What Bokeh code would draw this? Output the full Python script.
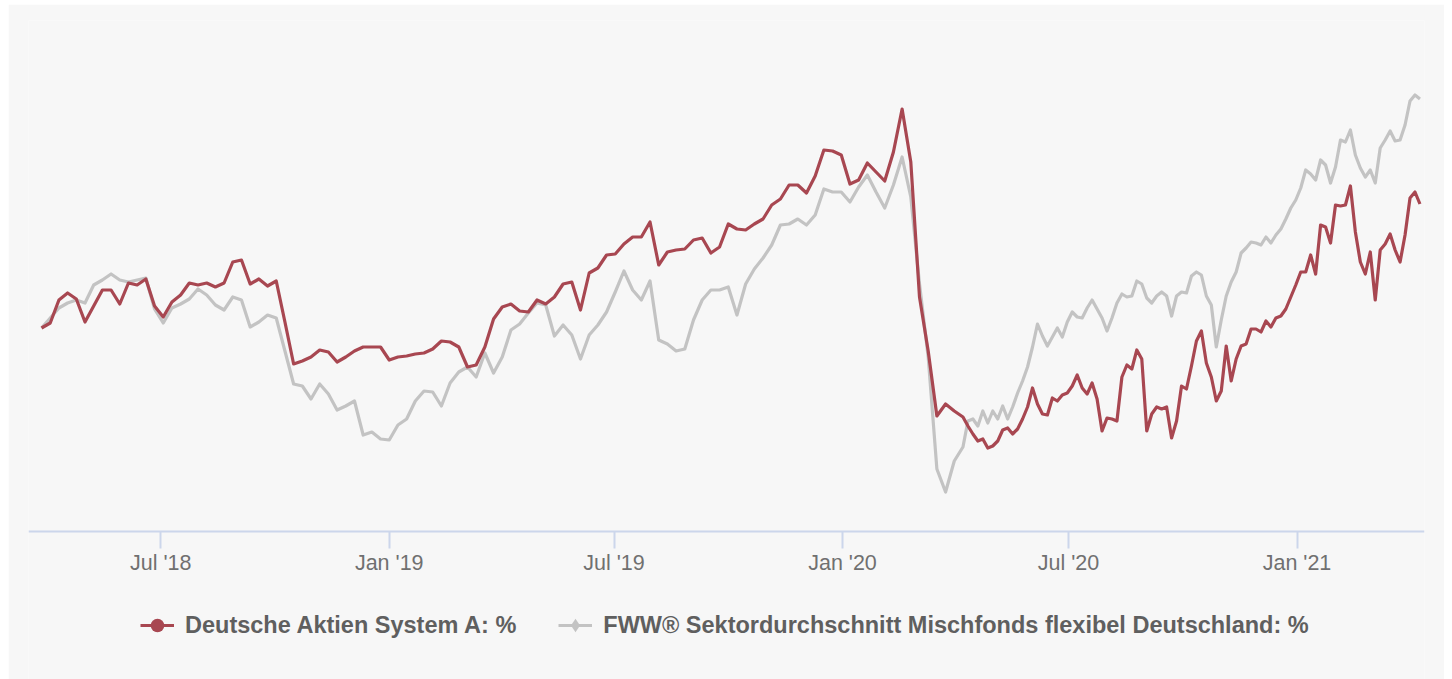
from datetime import datetime
import pandas as pd
from bokeh.plotting import figure
from bokeh.models import (ColumnDataSource, Range1d, FixedTicker, Legend, LegendItem,
                          DatetimeTickFormatter)
from bokeh.embed import file_html
from bokeh.resources import INLINE

# ---------------- data (percent performance) ----------------
series_names = ["Deutsche Aktien System A: %",
                "FWW® Sektordurchschnitt Mischfonds flexibel Deutschland: %"]

weekly_start = "2018-03-27"   # weekly observations
daily_start = "2020-04-11"    # denser observations (every 4 days)

fund_weekly = [
    0.0, 0.5, 2.8, 3.5, 2.9, 0.6, 2.2, 3.8, 3.8, 2.4,
    4.5, 4.3, 4.9, 2.2, 1.1, 2.6, 3.3, 4.5, 4.3, 4.5,
    4.1, 4.5, 6.6, 6.8, 4.4, 4.9, 4.2, 4.7, 0.6, -3.6,
    -3.3, -2.9, -2.2, -2.4, -3.4, -2.9, -2.3, -1.9, -1.9, -1.9,
    -3.2, -2.9, -2.8, -2.6, -2.5, -2.1, -1.3, -1.4, -1.9, -3.9,
    -3.7, -1.9, 0.9, 2.1, 2.4, 1.7, 1.6, 2.8, 2.4, 3.1,
    4.4, 4.6, 1.8, 5.5, 6.0, 7.3, 7.4, 8.4, 9.1, 9.1,
    10.6, 6.3, 7.6, 7.8, 7.9, 8.8, 9.0, 7.5, 8.1, 10.4,
    9.9, 9.8, 10.4, 10.9, 12.3, 12.9, 14.3, 14.3, 13.5, 15.2,
    17.8, 17.7, 17.3, 14.4, 14.8, 16.5, 15.6, 14.7, 17.6, 21.9,
    16.6, 3.1, -2.3, -8.8, -7.6, -8.3, -8.9,
]
sector_weekly = [
    0.0, 1.0, 2.0, 2.5, 2.8, 2.5, 4.3, 4.8, 5.4, 4.8,
    4.6, 4.8, 5.0, 1.9, 0.5, 2.0, 2.4, 2.9, 3.9, 3.3,
    2.3, 1.8, 3.1, 2.8, 0.1, 0.6, 1.3, 1.0, -2.3, -5.6,
    -5.8, -7.1, -5.6, -6.6, -8.2, -7.8, -7.3, -10.7, -10.4, -11.1,
    -11.2, -9.7, -9.1, -7.3, -6.3, -6.4, -7.8, -5.5, -4.4, -3.9,
    -4.9, -2.5, -4.5, -2.9, -0.2, 0.4, 1.5, 2.5, 2.3, -0.8,
    0.3, -0.7, -3.1, -0.7, 0.3, 1.6, 3.6, 5.7, 3.8, 2.8,
    4.7, -1.2, -1.6, -2.3, -2.1, 0.8, 2.8, 3.8, 3.8, 4.1,
    1.3, 4.4, 5.9, 7.0, 8.3, 10.3, 10.4, 10.9, 10.3, 11.3,
    13.9, 13.6, 13.6, 12.6, 14.1, 15.3, 13.6, 12.0, 14.3, 17.1,
    13.1, 4.4, -2.9, -14.1, -16.4, -13.3, -11.9,
]
fund_daily = [
    -9.8, -10.6, -11.3, -11.1, -12.0, -11.8, -11.3, -10.2, -10.0, -10.6,
    -10.1, -9.1, -7.9, -6.0, -7.6, -8.6, -8.7, -7.0, -7.3, -6.7,
    -6.5, -5.8, -4.7, -6.0, -6.6, -5.5, -7.1, -10.3, -9.0, -9.1,
    -9.3, -4.9, -3.7, -4.1, -2.2, -3.1, -10.3, -8.6, -7.9, -8.1,
    -7.9, -11.0, -9.3, -5.8, -6.1, -3.8, -1.3, -0.3, -3.5, -4.9,
    -7.3, -6.3, -1.8, -5.3, -3.1, -1.8, -1.6, -0.1, -0.1, -0.4,
    0.7, 0.1, 1.0, 1.2, 1.9, 3.1, 4.3, 5.6, 5.6, 7.3,
    5.4, 10.3, 10.1, 8.5, 12.3, 12.2, 12.3, 14.2, 9.6, 6.6,
    5.4, 7.6, 2.8, 7.8, 8.4, 9.4, 7.8, 6.6, 9.3, 13.0,
    13.6, 12.4,
]
sector_daily = [
    -9.3, -9.1, -9.8, -8.3, -9.5, -8.3, -9.1, -7.8, -9.1, -7.9,
    -6.5, -5.3, -3.9, -1.9, 0.4, -0.8, -1.8, -0.9, 0.0, -0.9,
    0.6, 1.6, 1.1, 1.0, 2.0, 2.8, 1.9, 1.0, -0.3, 1.0,
    2.5, 3.4, 3.1, 3.2, 4.7, 4.4, 3.0, 2.5, 3.2, 3.6,
    3.2, 1.2, 3.2, 3.6, 3.5, 5.2, 5.6, 5.3, 3.2, 2.3,
    -1.9, 0.8, 3.2, 4.6, 5.6, 7.5, 8.0, 8.6, 8.5, 8.3,
    9.1, 8.5, 9.3, 9.9, 10.9, 12.0, 12.8, 14.0, 15.8, 15.4,
    14.8, 16.8, 16.3, 14.5, 16.1, 18.8, 18.6, 19.8, 17.3, 16.0,
    15.1, 15.8, 14.5, 18.0, 18.8, 19.7, 18.7, 18.8, 20.3, 22.7,
    23.3, 22.9,
]

tick_dates = ["2018-07-01", "2019-01-01", "2019-07-01",
              "2020-01-01", "2020-07-01", "2021-01-01"]
tick_labels = ["Jul '18", "Jan '19", "Jul '19", "Jan '20", "Jul '20", "Jan '21"]
axis_level = -20.35   # value at which the x axis line sits

# ---------------- build ----------------
nw = min(len(fund_weekly), len(sector_weekly))
nd = min(len(fund_daily), len(sector_daily))
dates = (list(pd.date_range(weekly_start, periods=nw, freq="7D")) +
         list(pd.date_range(daily_start, periods=nd, freq="4D")))
src = ColumnDataSource(dict(
    x=dates,
    fund=fund_weekly[:nw] + fund_daily[:nd],
    sector=sector_weekly[:nw] + sector_daily[:nd],
))

RED = "#a84751"
GREY = "#c3c3c3"
BG = "#f7f7f7"

p = figure(width=1436, height=675, x_axis_type="datetime", y_axis_location=None,
           output_backend="svg", toolbar_location=None,
           x_range=Range1d(datetime(2018, 3, 16, 12), datetime(2021, 4, 13, 16)),
           y_range=Range1d(-35.15, 30.75),
           min_border_left=20, min_border_right=20, min_border_top=16,
           min_border_bottom=0, margin=(4, 8, 0, 8))
p.background_fill_color = BG
p.border_fill_color = BG
p.outline_line_color = None
p.grid.visible = False

r_sector = p.line("x", "sector", source=src, line_color=GREY, line_width=3.2,
                  line_join="round")
r_fund = p.line("x", "fund", source=src, line_color=RED, line_width=3.2,
                line_join="round")

# legend-only marker glyphs (zero size on the chart; the legend sizes its own symbol)
m_fund = p.scatter("x", "fund", source=src, marker="circle", size=0,
                   fill_color=RED, line_color=RED, line_width=0)
m_sector = p.scatter("x", "sector", source=src, marker="diamond", size=0,
                     fill_color=GREY, line_color=GREY, line_width=0)

ax = p.xaxis[0]
ax.fixed_location = axis_level
tick_ms = [float(pd.Timestamp(d).value // 10**6) for d in tick_dates]
ax.ticker = FixedTicker(ticks=tick_ms)
ax.formatter = DatetimeTickFormatter(days="%b '%y", months="%b '%y", years="%b '%y")
ax.major_label_overrides = {t: lab for t, lab in zip(tick_ms, tick_labels)}
ax.axis_line_color = "#ccd6eb"
ax.axis_line_width = 2
ax.major_tick_line_color = "#ccd6eb"
ax.major_tick_line_width = 2
ax.major_tick_in = 0
ax.major_tick_out = 17
ax.minor_tick_line_color = None
ax.major_label_text_font = "Liberation Sans"
ax.major_label_text_font_size = "21.5px"
ax.major_label_text_color = "#707070"
ax.major_label_standoff = 2

legend = Legend(
    items=[LegendItem(label=series_names[0], renderers=[r_fund, m_fund]),
           LegendItem(label=series_names[1], renderers=[r_sector, m_sector])],
    orientation="horizontal", location=(112, 36),
    glyph_width=34, glyph_height=36, label_standoff=11, spacing=42,
    label_text_font="Liberation Sans", label_text_font_style="bold",
    label_text_font_size="23.5px", label_text_color="#5f5f5f",
    background_fill_alpha=0, border_line_alpha=0, padding=0, margin=0,
)
p.add_layout(legend, "center")

open("out.html", "w").write(file_html(p, INLINE))
